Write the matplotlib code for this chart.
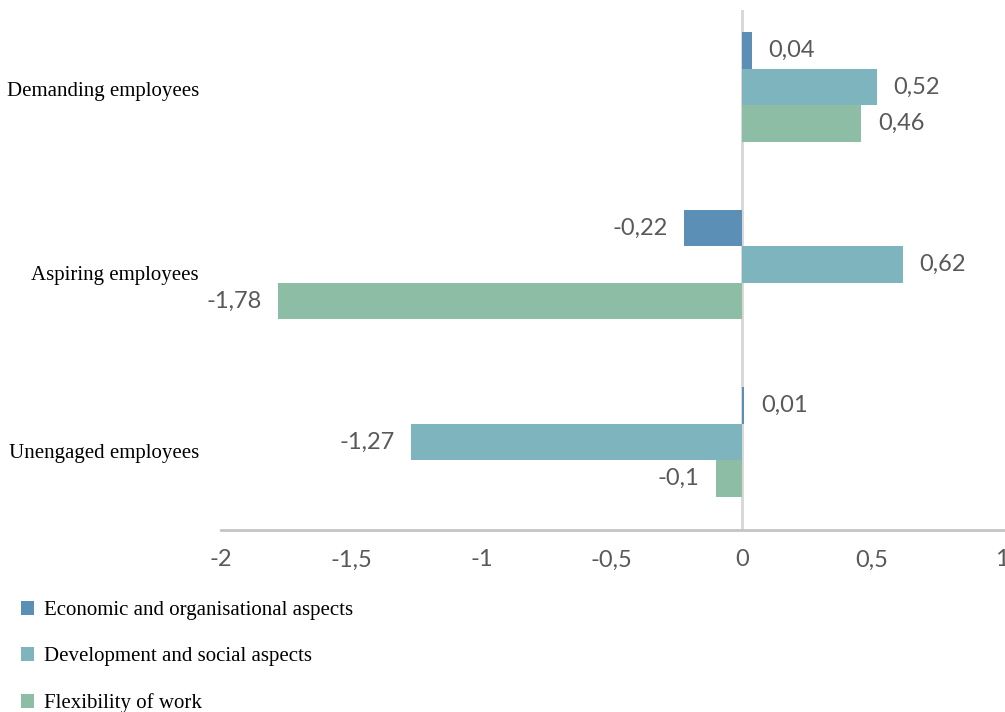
import numpy as np
import matplotlib
matplotlib.use("Agg")
import matplotlib.pyplot as plt
import matplotlib.transforms as mtransforms
from matplotlib.patches import Patch

categories = ["Unengaged employees", "Aspiring employees", "Demanding employees"]
series = ["Economic and organisational aspects",
          "Development and social aspects",
          "Flexibility of work"]
economic = [0.01, -0.22, 0.04]
development = [-1.27, 0.62, 0.52]
flexibility = [-0.1, -1.78, 0.46]
colors = ["#5B8FB5", "#7DB4BD", "#8DBDA4"]

ticks = [-2, -1.5, -1, -0.5, 0, 0.5, 1]


def fmt(v):
    s = ("%g" % v).replace(".", ",")
    return s


fig = plt.figure(figsize=(10.05, 7.12), dpi=100)
ax = fig.add_axes([221 / 1005, 1 - 530 / 712, 781 / 1005, 520 / 712])

y = np.arange(len(categories))
h = 0.206
data = [economic, development, flexibility]
offsets = [h, 0, -h]
num_font = "Lato"

for vals, off, col in zip(data, offsets, colors):
    bars = ax.barh(y + off, vals, height=h, color=col, zorder=2)
    for b, v in zip(bars, vals):
        yc = b.get_y() + b.get_height() / 2
        if v >= 0:
            ax.annotate(fmt(v), (v, yc), xytext=(12, 0), textcoords="offset points",
                        ha="left", va="center", fontsize=17, color="#595959",
                        family=num_font)
        else:
            ax.annotate(fmt(v), (v, yc), xytext=(-12, 0), textcoords="offset points",
                        ha="right", va="center", fontsize=17, color="#595959",
                        family=num_font)

ax.set_xlim(-2, 1)
ax.set_ylim(-0.496, 2.434)
ax.set_xticks(ticks)
ax.set_xticklabels([fmt(t) for t in ticks], fontsize=17, color="#595959", family=num_font)
ax.tick_params(axis="x", length=0, pad=14)
ax.set_yticks(y)
ax.set_yticklabels(categories, fontsize=15, family="Liberation Serif", color="black")
ax.tick_params(axis="y", length=0, pad=16)

# small vertical nudges of the category labels (pixels)
nudges = [-9, -9, -2]
for lab, dy in zip(ax.get_yticklabels(), nudges):
    lab.set_transform(lab.get_transform() +
                      mtransforms.ScaledTranslation(0, dy / 100, fig.dpi_scale_trans))

for s in ["top", "right", "left"]:
    ax.spines[s].set_visible(False)
ax.spines["bottom"].set_color("#C4C4C4")
ax.spines["bottom"].set_linewidth(2)
ax.spines["bottom"].set_bounds(-2, 1.02)
ax.spines["bottom"].set_clip_on(False)
ax.axvline(0, color="#D6D6D6", linewidth=2, zorder=1)

handles = [Patch(facecolor=c, edgecolor="none") for c in colors]
fig.legend(handles, series, loc="upper left", bbox_to_anchor=(0.021, 1 - 601 / 712),
           frameon=False, prop={"family": "Liberation Serif", "size": 15},
           handlelength=0.62, handleheight=0.62, handletextpad=0.5,
           labelspacing=1.3, borderaxespad=0, borderpad=0)

fig.savefig("out.png", dpi=100)
